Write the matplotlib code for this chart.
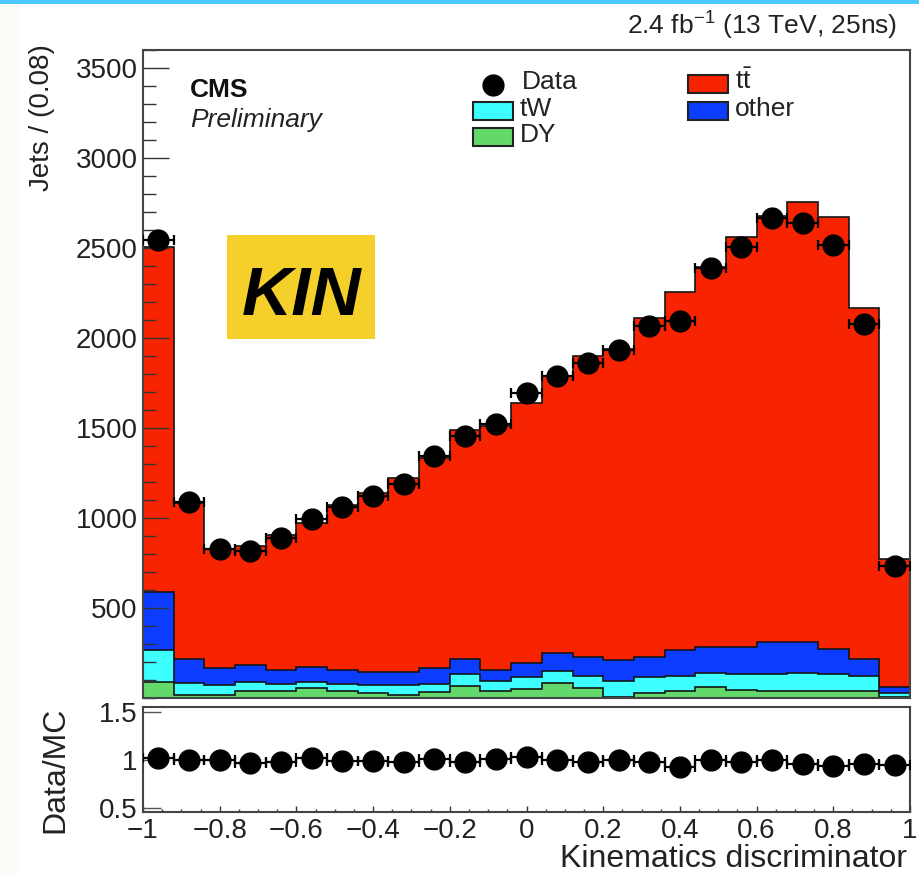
import numpy as np
import matplotlib.pyplot as plt
from matplotlib.patches import Rectangle
from matplotlib.lines import Line2D
from matplotlib.ticker import MultipleLocator, FuncFormatter

plt.rcParams['font.family'] = ['Liberation Sans', 'DejaVu Sans']
plt.rcParams['mathtext.fontset'] = 'custom'
plt.rcParams['mathtext.rm'] = 'Liberation Sans'
plt.rcParams['mathtext.it'] = 'Liberation Sans'

# binning of the kinematics discriminator: 25 bins of width 0.08
bin_edges = np.linspace(-1.0, 1.0, 26)

# observed jets per bin
data_counts = [2547, 1090, 829, 819, 890, 995, 1059, 1124, 1190, 1345, 1456, 1521, 1696,
               1788, 1862, 1936, 2068, 2093, 2388, 2503, 2669, 2637, 2517, 2075, 731]

# simulated contributions, stacked bottom to top
dy_counts = [90, 17, 17, 40, 40, 55, 40, 28, 17, 33, 66, 40, 50,
             81, 54, 7, 29, 39, 63, 44, 40, 40, 40, 40, 3]
tw_counts = [176, 68, 55, 50, 38, 35, 38, 44, 55, 45, 67, 56, 66,
             69, 68, 89, 87, 83, 77, 89, 93, 100, 93, 82, 23]
other_counts = [321, 131, 94, 93, 77, 83, 77, 74, 74, 88, 85, 59, 78,
                99, 107, 114, 113, 144, 141, 148, 179, 172, 142, 92, 33]
ttbar_counts = [1916, 869, 664, 662, 750, 802, 920, 994, 1074, 1169, 1272, 1355, 1446,
                1541, 1671, 1730, 1881, 1989, 2114, 2279, 2363, 2443, 2395, 1951, 716]

labels = ['DY', 'tW', 'other', r'$\mathrm{t\bar{t}}$']
colors = ['#63d86b', '#3dffff', '#0b3cff', '#f82300']

W, H = 919, 874


def fx(px):
    return px / W


def fy(py):
    return 1 - py / H


fig = plt.figure(figsize=(W / 100, H / 100), dpi=100)

# decoration around the plot
fig.add_artist(Rectangle((0, fy(4)), 1, 4 / H, transform=fig.transFigure,
                         facecolor='#4dc8ff', edgecolor='none'))
fig.add_artist(Rectangle((0, 0), fx(20), fy(4), transform=fig.transFigure,
                         facecolor='#fafcf6', edgecolor='none'))

ax = fig.add_axes([fx(143), fy(698), fx(910 - 143), (698 - 50) / H])
rax = fig.add_axes([fx(143), fy(812), fx(910 - 143), (812 - 707) / H])

centers = 0.5 * (bin_edges[1:] + bin_edges[:-1])
half_w = 0.5 * np.diff(bin_edges)
data = np.array(data_counts, dtype=float)
stack = np.array([dy_counts, tw_counts, other_counts, ttbar_counts], dtype=float)
cum = np.cumsum(stack, axis=0)
total = cum[-1]

# stacked histograms, drawn as cumulative sums from the top down
for i in range(len(stack) - 1, -1, -1):
    ax.stairs(cum[i], bin_edges, baseline=0, fill=True, facecolor=colors[i],
              edgecolor='#151515', linewidth=1.2, zorder=1 + (3 - i) * 0.1)

# data points
ax.errorbar(centers, data, xerr=half_w, fmt='none', ecolor='black',
            elinewidth=1.6, capsize=3.5, capthick=1.6, zorder=3)
ax.errorbar(centers, data, yerr=np.sqrt(data), fmt='o', color='black',
            markersize=15, elinewidth=1.6, capsize=0, zorder=4)

ax.set_xlim(-1, 1)
ax.set_ylim(0, 3600)
ax.set_yticks(np.arange(500, 3501, 500))
ax.yaxis.set_minor_locator(MultipleLocator(100))
ax.tick_params(axis='y', which='major', direction='in', length=19, width=1.0,
               colors='#333333', labelcolor='#222222', labelsize=20, pad=4)
ax.tick_params(axis='y', which='minor', direction='in', length=9.5, width=1.0,
               colors='#333333')
ax.tick_params(axis='x', which='both', bottom=False, labelbottom=False)
for s in ax.spines.values():
    s.set_color('#444444')
    s.set_linewidth(1.5)

# ratio panel
ratio = data / total
ratio_err = np.sqrt(data) / total
rax.errorbar(centers, ratio, xerr=half_w, fmt='none', ecolor='black',
             elinewidth=1.6, capsize=3.5, capthick=1.6, zorder=3)
rax.errorbar(centers, ratio, yerr=ratio_err, fmt='o', color='black',
             markersize=15, elinewidth=1.6, capsize=0, zorder=4)
rax.set_xlim(-1, 1)
rax.set_ylim(0.46, 1.55)
rax.set_yticks([0.5, 1.0, 1.5])
rax.set_yticklabels(['0.5', '1', '1.5'])
rax.xaxis.set_major_locator(MultipleLocator(0.2))
rax.xaxis.set_minor_locator(MultipleLocator(0.05))
rax.xaxis.set_major_formatter(FuncFormatter(
    lambda v, p: ('%g' % round(v, 2)).replace('-', '\u2212')))
rax.tick_params(axis='y', which='major', direction='in', length=13, width=1.0,
                colors='#555555', labelcolor='#222222', labelsize=20, pad=4)
rax.tick_params(axis='x', which='major', direction='in', length=4.5, width=1.0,
                colors='#333333', labelcolor='#222222', labelsize=20, pad=4)
rax.tick_params(axis='x', which='minor', direction='in', length=2.5, width=1.0,
                colors='#333333')
for s in rax.spines.values():
    s.set_color('#444444')
    s.set_linewidth(1.5)

# axis titles
fig.text(fx(42), fy(44), 'Jets / (0.08)', rotation=90, ha='center', va='top',
         fontsize=20, color='#222222')
fig.text(fx(55), fy(770), 'Data/MC', rotation=90, ha='center', va='center',
         fontsize=23, color='#222222')
fig.text(fx(907), fy(867), 'Kinematics discriminator', ha='right', va='baseline',
         fontsize=23, color='#222222')

# headers
fig.text(fx(897), fy(35), r'2.4 fb$^{-1}$ (13 TeV, 25ns)', ha='right', va='baseline',
         fontsize=19, color='#222222')
fig.text(fx(190), fy(97), 'CMS', ha='left', va='baseline', fontsize=19,
         fontweight='bold', color='#111111')
fig.text(fx(190), fy(127), 'Preliminary', ha='left', va='baseline', fontsize=19,
         style='italic', color='#222222')

# legend
fig.add_artist(Line2D([fx(493)], [fy(85)], marker='o', markersize=15, color='black',
                      transform=fig.transFigure))
fig.text(fx(522), fy(89), 'Data', ha='left', va='baseline', fontsize=19, color='#222222')
legend_boxes = [(3, 688, 75), (2, 688, 102), (1, 473, 102), (0, 473, 128)]
for idx, x0, y0 in legend_boxes:
    fig.add_artist(Rectangle((fx(x0), fy(y0 + 18)), fx(40), 18 / H,
                             transform=fig.transFigure, facecolor=colors[idx],
                             edgecolor='#222222', linewidth=1.5))
    fig.text(fx(x0 + 47), fy(y0 + 14), labels[idx], ha='left', va='baseline',
             fontsize=19, color='#222222')

# method tag
fig.add_artist(Rectangle((fx(227), fy(339)), fx(375 - 227), (339 - 235) / H,
                         transform=fig.transFigure, facecolor='#f5d02a',
                         edgecolor='none'))
fig.text(fx(302), fy(315), 'KIN', ha='center', va='baseline', fontsize=50,
         fontweight='bold', style='italic', color='black')

fig.savefig('out.png', dpi=100)
